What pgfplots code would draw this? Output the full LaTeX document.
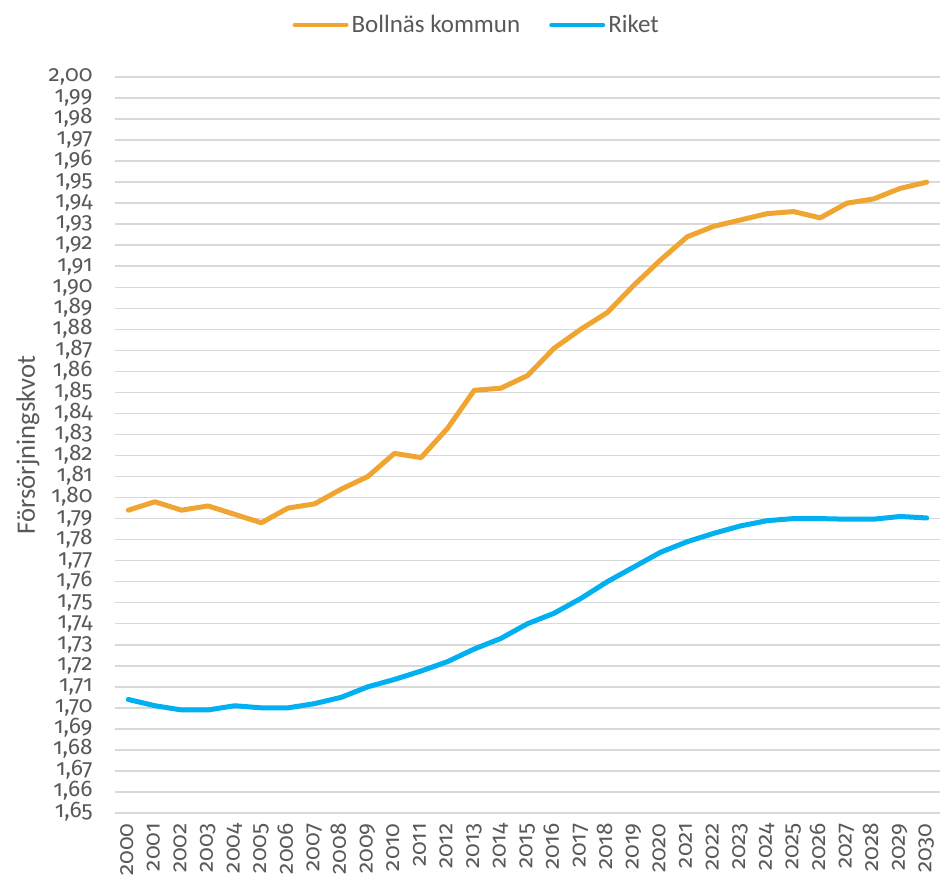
\documentclass[border=0pt]{standalone}
\usepackage{fontspec}
\setmainfont{Carlito}
\newfontfamily\numfont{Fira Sans}[Numbers=OldStyle]
\usepackage{pgfplots}
\pgfplotsset{compat=1.18}
\usetikzlibrary{calc}

\definecolor{bollnas}{HTML}{F0A431}
\definecolor{riket}{HTML}{00B0F0}
\definecolor{txt}{HTML}{595959}
\definecolor{gridc}{HTML}{D9D9D9}

\begin{document}
\begin{tikzpicture}
\begin{axis}[
    scale only axis,
    width=412.5pt, height=368pt,
    xmin=1999.5, xmax=2030.5,
    ymin=1.65, ymax=2.00,
    xtick={2000,2001,...,2030},
    ytick={1.65,1.66,...,2.005},
    axis line style={draw=none},
    major tick length=0pt,
    ymajorgrids=true,
    grid style={gridc, line width=0.75pt},
    font=\fontsize{12.5}{14}\selectfont,
    /pgf/number format/assume math mode=true,
    xticklabel style={/pgf/number format/.cd, set thousands separator={}, /tikz/.cd,
        rotate=90, anchor=mid east, inner sep=0pt, text=txt,
        font=\numfont\fontsize{11.3}{13}\selectfont},
    xticklabel shift=5pt,
    yticklabel style={/pgf/number format/.cd, fixed, fixed zerofill, precision=2, use comma, /tikz/.cd,
        anchor=mid east, inner sep=0pt, text=txt,
        font=\numfont\fontsize{11.3}{13}\selectfont},
    yticklabel shift=11pt,
    ylabel={Försörjningskvot},
    every axis y label/.style={at={($(rel axis cs:0,0.5)+(-43.5pt,0)$)}, rotate=90, anchor=center,
        font=\fontsize{13.3}{15}\selectfont, text=txt},
    legend style={at={(rel axis cs:0.439,1.0707)}, anchor=center, draw=none, fill=none,
        legend columns=2, text=txt, font=\fontsize{12.5}{14}\selectfont,
        nodes={inner sep=1.5pt},
        /tikz/every even column/.append style={column sep=13pt}},
    legend cell align=left,
    legend image code/.code={\draw[#1, line width=2pt, line cap=round] (0pt,0pt) -- (26pt,0pt);},
]
\coordinate (bl) at (rel axis cs:0,0);
\coordinate (tr) at (rel axis cs:1,1);

\addplot[bollnas, line width=2.5pt, line cap=round, line join=round] coordinates {
(2000,1.794)(2001,1.798)(2002,1.794)(2003,1.796)(2004,1.792)(2005,1.788)
(2006,1.795)(2007,1.797)(2008,1.804)(2009,1.810)(2010,1.821)(2011,1.819)
(2012,1.833)(2013,1.851)(2014,1.852)(2015,1.858)(2016,1.871)(2017,1.880)
(2018,1.888)(2019,1.901)(2020,1.913)(2021,1.924)(2022,1.929)(2023,1.932)
(2024,1.935)(2025,1.936)(2026,1.933)(2027,1.940)(2028,1.942)(2029,1.947)
(2030,1.950)
};
\addlegendentry{Bollnäs kommun}

\addplot[riket, line width=2.5pt, line cap=round, line join=round] coordinates {
(2000,1.704)(2001,1.701)(2002,1.699)(2003,1.699)(2004,1.701)(2005,1.700)
(2006,1.700)(2007,1.702)(2008,1.705)(2009,1.710)(2010,1.7135)(2011,1.7175)
(2012,1.722)(2013,1.728)(2014,1.733)(2015,1.740)(2016,1.745)(2017,1.752)
(2018,1.760)(2019,1.767)(2020,1.774)(2021,1.779)(2022,1.783)(2023,1.7865)
(2024,1.789)(2025,1.790)(2026,1.790)(2027,1.7897)(2028,1.7897)(2029,1.791)
(2030,1.7903)
};
\addlegendentry{Riket}
\end{axis}
\pgfresetboundingbox
\path ([shift={(-57.5pt,-31pt)}]bl) rectangle ([shift={(1.5pt,38.5pt)}]tr);
\end{tikzpicture}
\end{document}
